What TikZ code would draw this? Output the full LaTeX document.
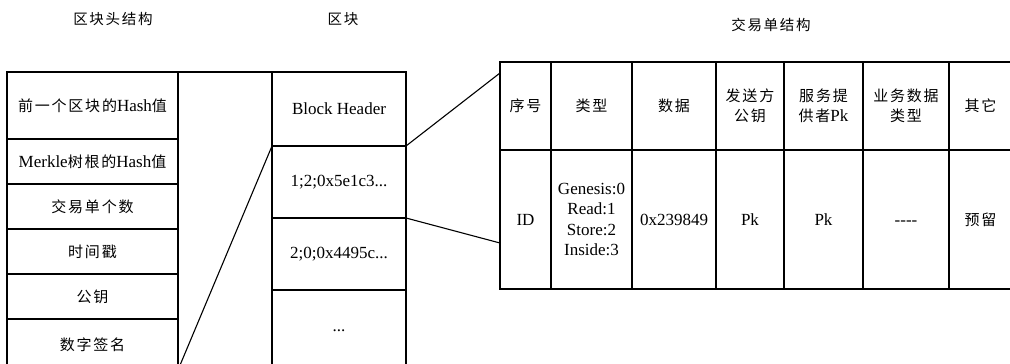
\documentclass[tikz,border=0pt]{standalone}
\usepackage{fontspec}
\setmainfont{Liberation Serif}
\newfontfamily\cjk[LetterSpace=12]{Noto Sans CJK SC}
\usetikzlibrary{calc}
\newcommand\zhL[1]{{\cjk\fontsize{15}{20.5}\selectfont #1}}
\tikzset{
  cell/.style={draw, line width=1.1pt, inner sep=0pt, outer sep=0pt, align=center,
    font=\fontsize{17}{20.5}\selectfont},
  title/.style={font=\cjk\fontsize{14.5}{17}\selectfont},
  link/.style={line width=1.1pt},
}
\begin{document}
\begin{tikzpicture}[x=1pt,y=-1pt]
\useasboundingbox (0,0) rectangle (1010,364);
\clip (0,0) rectangle (1010,364);
% titles
\node[title] (t1) at (113,19) {区块头结构};
\node[title] (t2) at (343,19) {区块};
\node[title] (t3) at (771,25) {交易单结构};
% block header structure
\node[cell, minimum width=171, minimum height=67] (l1) at (92.5,105.5) {\zhL{前一个区块的}Hash\zhL{值}};
\node[cell, minimum width=171, minimum height=45] (l2) at (92.5,161.5) {Merkle\zhL{树根的}Hash\zhL{值}};
\node[cell, minimum width=171, minimum height=45] (l3) at (92.5,206.5) {\zhL{交易单个数}};
\node[cell, minimum width=171, minimum height=45] (l4) at (92.5,251.5) {\zhL{时间戳}};
\node[cell, minimum width=171, minimum height=45] (l5) at (92.5,296.5) {\zhL{公钥}};
\node[cell, minimum width=171, minimum height=51] (l6) at (92.5,344.5) {\zhL{数字签名}};
% block
\node[cell, minimum width=134, minimum height=74] (m1) at (339,109) {Block Header};
\node[cell, minimum width=134, minimum height=72] (m2) at (339,182) {1;2;0x5e1c3...};
\node[cell, minimum width=134, minimum height=72] (m3) at (339,254) {2;0;0x4495c...};
\node[cell, minimum width=134, minimum height=82] (m4) at (339,331) {...};
% transaction structure: header row
\node[cell, minimum width=51, minimum height=88] (h1) at (525.5,106) {\zhL{序号}};
\node[cell, minimum width=81, minimum height=88] (h2) at (591.5,106) {\zhL{类型}};
\node[cell, minimum width=84, minimum height=88] (h3) at (674,106) {\zhL{数据}};
\node[cell, minimum width=68, minimum height=88] (h4) at (750,106) {\zhL{发送方}\\\zhL{公钥}};
\node[cell, minimum width=79, minimum height=88] (h5) at (823.5,106) {\zhL{服务提}\\\zhL{供者}Pk};
\node[cell, minimum width=86, minimum height=88] (h6) at (906,106) {\zhL{业务数据}\\\zhL{类型}};
\node[cell, minimum width=63, minimum height=88] (h7) at (980.5,106) {\zhL{其它}};
% data row
\node[cell, minimum width=51, minimum height=139] (d1) at (525.5,219.5) {ID};
\node[cell, minimum width=81, minimum height=139] (d2) at (591.5,219.5) {Genesis:0\\Read:1\\Store:2\\Inside:3};
\node[cell, minimum width=84, minimum height=139] (d3) at (674,219.5) {0x239849};
\node[cell, minimum width=68, minimum height=139] (d4) at (750,219.5) {Pk};
\node[cell, minimum width=79, minimum height=139] (d5) at (823.5,219.5) {Pk};
\node[cell, minimum width=86, minimum height=139] (d6) at (906,219.5) {\vphantom{Pk}{-}{-}{-}{-}};
\node[cell, minimum width=63, minimum height=139] (d7) at (980.5,219.5) {\zhL{预留}};
% connectors
\draw[link] (l1.north east) -- (m1.north west);
\draw[link] (l6.south east) -- (m2.north west);
\coordinate (c1) at ([yshift=-11pt]h1.north west);
\draw[link] (m1.south east) -- (c1);
\coordinate (c2) at ([yshift=-23.5pt]d1.west);
\draw[link] (m2.south east) -- (c2);
\end{tikzpicture}
\end{document}
